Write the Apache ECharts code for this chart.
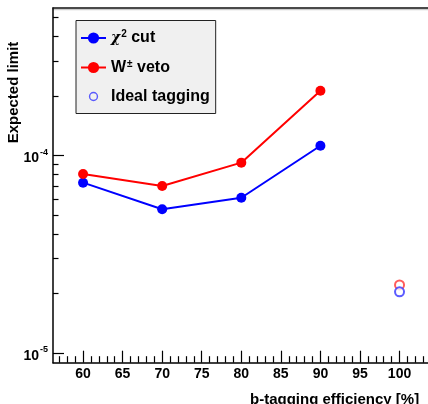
<!DOCTYPE html>
<html>
<head>
<meta charset="utf-8">
<script src="https://cdn.jsdelivr.net/npm/echarts@6/dist/echarts.min.js"></script>
<style>
  html, body { margin: 0; padding: 0; background: #fff; }
  #chart { width: 428px; height: 404px; }
</style>
</head>
<body>
<div id="chart"></div>
<script>
// b-tagging efficiency points (%)
const efficiency = [60, 70, 80, 90];
// Expected limit with the chi-square cut
const chi2Cut = [7.27e-5, 5.33e-5, 6.10e-5, 1.118e-4];
// Expected limit with the W veto
const wVeto = [8.04e-5, 6.99e-5, 9.18e-5, 2.12e-4];
// Ideal tagging (100 % efficiency) for both selections
const idealEfficiency = 100;
const idealChi2 = 2.04e-5;
const idealWVeto = 2.21e-5;

// Axis ticks
const xMajorTicks = [60, 65, 70, 75, 80, 85, 90, 95, 100, 105];
const xMinorTicks = [];
for (let v = 57; v <= 106; v++) if (v % 5 !== 0) xMinorTicks.push(v);
const yMajorTicks = [1e-5, 1e-4];
const yMinorTicks = [2e-5, 3e-5, 4e-5, 5e-5, 6e-5, 7e-5, 8e-5, 9e-5, 2e-4, 3e-4, 4e-4, 5e-4];

const X_MIN = 56.2, X_MAX = 106;
const Y_MIN = 8.93e-6, Y_MAX = 5.56e-4;

const FONT = '"Liberation Sans", Arial, Helvetica, sans-serif';
const BLUE = '#0000ff';
const RED = '#ff0000';
const IDEAL_BLUE = '#3333ff';
const IDEAL_RED = '#ff3333';

const chart = echarts.init(document.getElementById('chart'), null, { renderer: 'canvas' });

function pairs(xs, ys) { return xs.map((x, i) => [x, ys[i]]); }

function powLabel(v) {
  const e = Math.round(Math.log10(v));
  return '{b|10}{s|' + e + '}';
}

const baseX = {
  type: 'value', min: X_MIN, max: X_MAX, position: 'bottom',
  axisLine: { onZero: false, show: false },
  splitLine: { show: false },
  axisLabel: { show: false },
  axisTick: { show: false }
};
const baseY = {
  type: 'log', logBase: 10, min: Y_MIN, max: Y_MAX, position: 'left',
  axisLine: { onZero: false, show: false },
  splitLine: { show: false },
  axisLabel: { show: false },
  axisTick: { show: false }
};

chart.setOption({
  animation: false,
  backgroundColor: '#ffffff',
  grid: { left: 53, top: 8, width: 394, height: 354.7, show: false, outerBoundsMode: 'none', containLabel: false },
  xAxis: [
    Object.assign({}, baseX, {
      axisLine: { onZero: false, show: true, lineStyle: { color: '#000', width: 1.5 } },
      axisTick: { show: true, inside: true, length: 12, customValues: xMajorTicks,
                  lineStyle: { color: '#000', width: 1.2 } },
      axisLabel: { show: true, customValues: xMajorTicks, margin: 4,
                   color: '#000', fontFamily: FONT, fontWeight: 'bold', fontSize: 14 },
      name: 'b-tagging efficiency [%]',
      nameLocation: 'middle', nameGap: 30,
      nameTextStyle: { align: 'left', color: '#000', fontFamily: FONT, fontWeight: 'bold', fontSize: 15 }
    }),
    Object.assign({}, baseX, {
      axisTick: { show: true, inside: true, length: 6.5, customValues: xMinorTicks,
                  lineStyle: { color: '#000', width: 1.2 } }
    }),
    Object.assign({}, baseX, {
      position: 'top',
      axisLine: { onZero: false, show: true,
                  lineStyle: { color: '#111', width: 1.5, shadowColor: 'rgba(0,0,0,0.2)', shadowOffsetY: 1.5, shadowBlur: 0 } }
    })
  ],
  yAxis: [
    Object.assign({}, baseY, {
      axisLine: { onZero: false, show: true, lineStyle: { color: '#000', width: 1.5 } },
      axisTick: { show: true, inside: true, length: 11, customValues: yMajorTicks,
                  lineStyle: { color: '#000', width: 1.2 } },
      axisLabel: {
        show: true, customValues: yMajorTicks, margin: 5,
        formatter: powLabel,
        rich: {
          b: { fontFamily: FONT, fontWeight: 'bold', fontSize: 14, color: '#000', padding: [6, 0, 0, 0] },
          s: { fontFamily: FONT, fontWeight: 'bold', fontSize: 9, color: '#000', padding: [0, 0, 6, 1] }
        }
      }
    }),
    Object.assign({}, baseY, {
      axisTick: { show: true, inside: true, length: 5.5, customValues: yMinorTicks,
                  lineStyle: { color: '#000', width: 1.2 } }
    })
  ],
  legend: {
    orient: 'vertical',
    left: 76, top: 20.5,
    padding: [9, 6, 9, 4],
    itemGap: 13,
    itemWidth: 25, itemHeight: 14,
    backgroundColor: '#f0f0f0',
    borderColor: '#222', borderWidth: 1, borderRadius: 0,
    data: [
      'chi2',
      'wveto',
      {
        name: 'ideal',
        // small open ring, padded inside a square box so it keeps a modest size
        icon: 'path://M0,0M16,16M8,3.5A4.5,4.5,0,1,1,8,12.5A4.5,4.5,0,1,1,8,3.5Z',
        itemStyle: { color: 'rgba(0,0,0,0)', borderColor: IDEAL_BLUE, borderWidth: 1.4 }
      }
    ],
    formatter: function (name) {
      if (name === 'chi2') return '{g|χ}{s|2}{t| cut}';
      if (name === 'wveto') return '{t|W}{s|±}{t| veto}';
      return '{t|Ideal tagging}';
    },
    textStyle: {
      color: '#000', fontFamily: FONT, fontWeight: 'bold', fontSize: 16,
      rich: {
        t: { fontFamily: FONT, fontWeight: 'bold', fontSize: 16, color: '#000' },
        g: { fontFamily: '"DejaVu Serif", serif', fontStyle: 'italic', fontSize: 14, color: '#000' },
        s: { fontFamily: FONT, fontWeight: 'bold', fontSize: 10, color: '#000', padding: [0, 0, 7, 1] }
      }
    }
  },
  graphic: [
    {
      type: 'text',
      x: 14, y: 92.5,
      rotation: Math.PI / 2,
      style: {
        text: 'Expected limit',
        font: 'bold 15px ' + FONT,
        fill: '#000',
        align: 'center',
        verticalAlign: 'middle'
      }
    }
  ],
  series: [
    {
      name: 'chi2', type: 'line',
      xAxisIndex: 0, yAxisIndex: 0,
      data: pairs(efficiency, chi2Cut),
      symbol: 'circle', symbolSize: 10,
      lineStyle: { color: BLUE, width: 2 },
      itemStyle: { color: BLUE },
      z: 3
    },
    {
      name: 'wveto', type: 'line',
      xAxisIndex: 0, yAxisIndex: 0,
      data: pairs(efficiency, wVeto),
      symbol: 'circle', symbolSize: 10,
      lineStyle: { color: RED, width: 2 },
      itemStyle: { color: RED },
      z: 3
    },
    {
      name: 'ideal', type: 'scatter',
      xAxisIndex: 0, yAxisIndex: 0,
      data: [[idealEfficiency, idealChi2]],
      symbol: 'emptyCircle', symbolSize: 9,
      itemStyle: { color: IDEAL_BLUE, borderColor: IDEAL_BLUE, borderWidth: 1.4 },
      z: 3
    },
    {
      name: 'idealW', type: 'scatter',
      xAxisIndex: 0, yAxisIndex: 0,
      data: [[idealEfficiency, idealWVeto]],
      symbol: 'emptyCircle', symbolSize: 9,
      itemStyle: { color: IDEAL_RED, borderColor: IDEAL_RED, borderWidth: 1.4 },
      z: 2
    }
  ]
});
</script>
</body>
</html>
